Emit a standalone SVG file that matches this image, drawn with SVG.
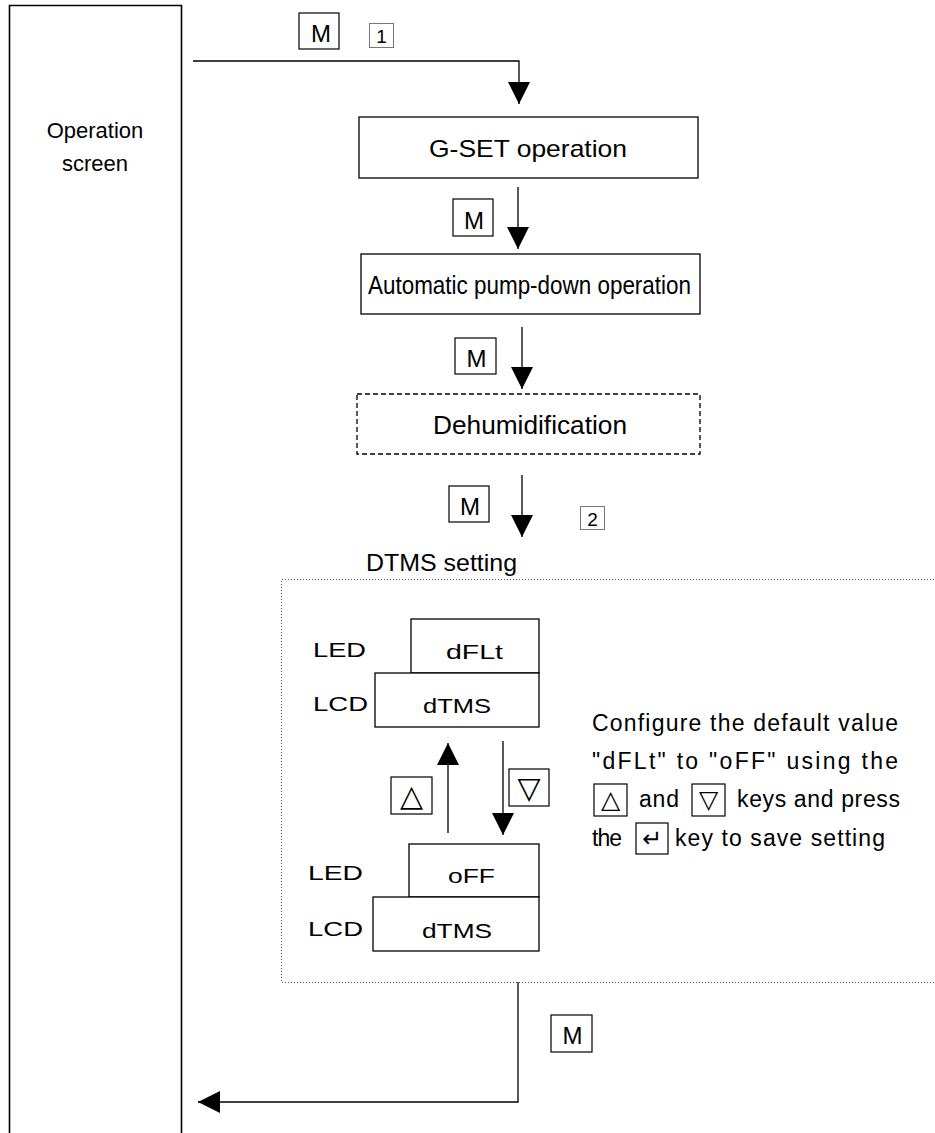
<svg xmlns="http://www.w3.org/2000/svg" width="935" height="1133" viewBox="0 0 935 1133">
<defs>
<style>
.t{font-family:"Liberation Sans",Arial,sans-serif;fill:#000}
.box{fill:#fff;stroke:#000;stroke-width:1.3}
.key{fill:#fff;stroke:#000;stroke-width:1.2}
.num{fill:#fff;stroke:#777;stroke-width:1}
.ln{fill:none;stroke:#000;stroke-width:1.3}
.sym{font-family:"DejaVu Sans",sans-serif;fill:#000}
</style>
<marker id="ah" markerUnits="userSpaceOnUse" markerWidth="22" markerHeight="22" viewBox="0 0 20 20" refX="20" refY="10" orient="auto">
<path d="M0,0 L20,10 L0,20 z" fill="#000"/>
</marker>
</defs>
<rect width="935" height="1133" fill="#fff"/>

<g id="operation-screen">
<path d="M9.5,1133 V5.5 H181.5 V1133" fill="none" stroke="#000" stroke-width="1.6"/>
<text class="t" x="95" y="138" font-size="22" text-anchor="middle">Operation</text>
<text class="t" x="95" y="171" font-size="22" text-anchor="middle">screen</text>
</g>

<g id="connectors">
<path class="ln" d="M193,61 H519 V104" marker-end="url(#ah)"/>
<path class="ln" d="M518,187 V249" marker-end="url(#ah)"/>
<path class="ln" d="M522,327 V389" marker-end="url(#ah)"/>
<path class="ln" d="M522,475 V537" marker-end="url(#ah)"/>
<path class="ln" d="M448,833 V743" marker-end="url(#ah)"/>
<path class="ln" d="M503,741 V835" marker-end="url(#ah)"/>
<path class="ln" d="M518,982 V1102 H198" marker-end="url(#ah)"/>
</g>

<g id="key-m1">
<rect class="key" x="299" y="13" width="40" height="36"/>
<text class="t" x="321" y="42" font-size="24" text-anchor="middle">M</text>
</g>
<g id="step-1">
<rect class="num" x="369.5" y="23.5" width="24" height="24"/>
<text class="t" x="381.5" y="43" font-size="19" text-anchor="middle" fill="#222">1</text>
</g>

<g id="gset">
<rect class="box" x="359" y="117" width="339" height="61"/>
<text class="t" x="429" y="157" font-size="24" textLength="198" lengthAdjust="spacingAndGlyphs">G-SET operation</text>
</g>

<g id="key-m2">
<rect class="key" x="453" y="199" width="40" height="37"/>
<text class="t" x="474" y="229" font-size="24" text-anchor="middle">M</text>
</g>

<g id="pumpdown">
<rect class="box" x="361" y="254" width="339" height="60"/>
<text class="t" x="368" y="294" font-size="25" textLength="323" lengthAdjust="spacingAndGlyphs">Automatic pump-down operation</text>
</g>

<g id="key-m3">
<rect class="key" x="455" y="338" width="41" height="36"/>
<text class="t" x="476.5" y="367" font-size="24" text-anchor="middle">M</text>
</g>

<g id="dehumidification">
<rect x="357" y="394" width="343" height="60" fill="#fff" stroke="#000" stroke-width="1.3" stroke-dasharray="5,3"/>
<text class="t" x="433" y="434" font-size="25" textLength="194" lengthAdjust="spacingAndGlyphs">Dehumidification</text>
</g>

<g id="key-m4">
<rect class="key" x="449" y="486" width="40" height="36"/>
<text class="t" x="470" y="515" font-size="24" text-anchor="middle">M</text>
</g>
<g id="step-2">
<rect class="num" x="580.5" y="506.5" width="24" height="23"/>
<text class="t" x="592.5" y="526" font-size="19" text-anchor="middle" fill="#222">2</text>
</g>

<g id="dtms-setting">
<text class="t" x="366" y="571" font-size="24" textLength="151" lengthAdjust="spacingAndGlyphs">DTMS setting</text>
<path d="M940,579.5 H281.5 V982.5 H940" fill="none" stroke="#555" stroke-width="1" stroke-dasharray="1,2"/>
</g>

<g id="display-default">
<text class="t" x="313" y="657" font-size="21" textLength="53" lengthAdjust="spacingAndGlyphs">LED</text>
<text class="t" x="313" y="711" font-size="21" textLength="55" lengthAdjust="spacingAndGlyphs">LCD</text>
<rect class="box" x="411" y="619" width="128" height="54"/>
<rect class="box" x="375" y="673" width="164" height="54"/>
<text class="t" x="446" y="659" font-size="21" textLength="57" lengthAdjust="spacingAndGlyphs">dFLt</text>
<text class="t" x="423" y="713" font-size="21" textLength="68" lengthAdjust="spacingAndGlyphs">dTMS</text>
</g>

<g id="key-up">
<rect class="key" x="391" y="777" width="41" height="37"/>
<text class="sym" x="411.5" y="806" font-size="30" text-anchor="middle">△</text>
</g>
<g id="key-down">
<rect class="key" x="509" y="769" width="40" height="37"/>
<text class="sym" x="529" y="798" font-size="30" text-anchor="middle">▽</text>
</g>

<g id="display-off">
<text class="t" x="308" y="880" font-size="21" textLength="55" lengthAdjust="spacingAndGlyphs">LED</text>
<text class="t" x="308" y="936" font-size="21" textLength="55" lengthAdjust="spacingAndGlyphs">LCD</text>
<rect class="box" x="409" y="844" width="130" height="53"/>
<rect class="box" x="373" y="897" width="166" height="54"/>
<text class="t" x="448" y="883" font-size="21" textLength="47" lengthAdjust="spacingAndGlyphs">oFF</text>
<text class="t" x="422" y="938" font-size="21" textLength="70" lengthAdjust="spacingAndGlyphs">dTMS</text>
</g>

<g id="instructions">
<text class="t" x="592" y="731" font-size="23" textLength="306" lengthAdjust="spacing">Configure the default value</text>
<text class="t" x="592" y="769" font-size="23" textLength="306" lengthAdjust="spacing">"dFLt" to "oFF" using the</text>
<rect class="key" x="594" y="784" width="33" height="32"/>
<text class="sym" x="610.5" y="808" font-size="25" text-anchor="middle">△</text>
<text class="t" x="639" y="807" font-size="23" textLength="40" lengthAdjust="spacing">and</text>
<rect class="key" x="692" y="784" width="33" height="32"/>
<text class="sym" x="708.5" y="808" font-size="25" text-anchor="middle">▽</text>
<text class="t" x="737" y="807" font-size="23" textLength="163" lengthAdjust="spacing">keys and press</text>
<text class="t" x="592" y="846" font-size="23" textLength="30" lengthAdjust="spacing">the</text>
<rect class="key" x="636" y="823" width="32" height="31"/>
<text class="sym" x="652" y="847" font-size="24" text-anchor="middle">↵</text>
<text class="t" x="675" y="846" font-size="23" textLength="210" lengthAdjust="spacing">key to save setting</text>
</g>

<g id="key-m5">
<rect class="key" x="551" y="1015" width="41" height="37"/>
<text class="t" x="572.5" y="1044" font-size="24" text-anchor="middle">M</text>
</g>
</svg>
